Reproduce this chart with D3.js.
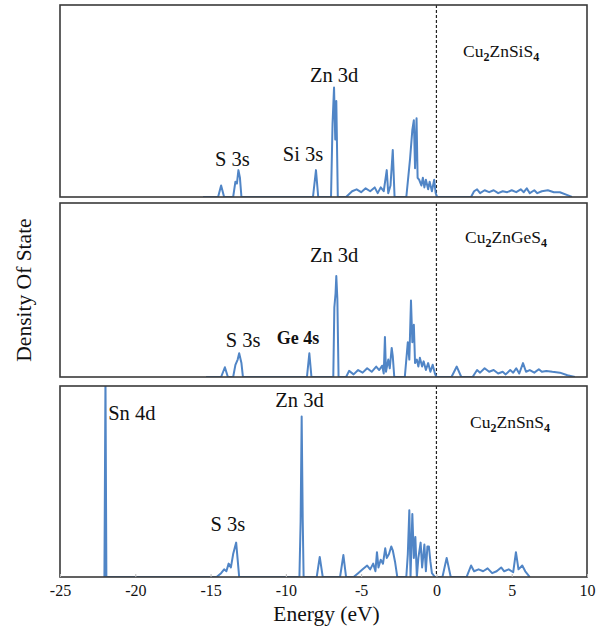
<!DOCTYPE html>
<html>
<head>
<meta charset="utf-8">
<script src="https://cdn.jsdelivr.net/npm/d3@7"></script>
<style>
  body { margin: 0; background: #fff; }
  svg text { font-family: "Liberation Serif", "Times New Roman", Times, serif; fill: #111; }
</style>
</head>
<body>
<script>
// energy range and x ticks
var xDomain = [-25, 10];
var xTicks = [-25, -20, -15, -10, -5, 0, 5, 10];

// DOS, [energy, % of panel height]
var dosSi = [[-15.5,0],[-14.5,0],[-14.3,6],[-14.1,0],[-13.5,0],[-13.35,8],[-13.25,7],[-13.15,14],[-13.05,10],[-12.95,0],
  [-8.2,0],[-8.0,14],[-7.85,0],[-7.0,0],[-6.9,38],[-6.8,57],[-6.72,30],[-6.65,50],[-6.55,0],
  [-6.0,0],[-5.6,3],[-5.3,4],[-5.0,2.5],[-4.7,4.5],[-4.4,3],[-4.1,5],[-3.9,2],[-3.7,5],[-3.5,3],[-3.3,14],[-3.2,2],[-3.05,6],[-2.9,24.5],[-2.78,0],
  [-2.0,0],[-1.75,20],[-1.6,35],[-1.5,40],[-1.42,15],[-1.32,41],[-1.25,10],[-1.15,9],[-1.0,6],[-0.9,10],[-0.8,5],[-0.7,9],[-0.55,4],[-0.45,8],[-0.3,3],[-0.15,9],[-0.05,2],[0.05,0],
  [2.3,0],[2.5,3],[2.7,4],[2.9,2],[3.2,3.5],[3.5,2.5],[3.8,3.5],[4.1,2],[4.4,3],[4.7,2.5],[5.0,3.5],[5.3,2.5],[5.6,4],[5.8,2.5],[6.0,4.5],[6.2,2],[6.5,3.5],[6.7,2],[7.0,3],[7.4,3.5],[7.8,2.5],[8.2,2.5],[8.7,1],[9.0,0]];

var dosGe = [[-15.3,0],[-14.3,0],[-14.05,5.6],[-13.85,0],[-13.5,0],[-13.35,7],[-13.2,10],[-13.1,13.6],[-12.95,8],[-12.85,0],
  [-8.6,0],[-8.44,13.6],[-8.3,0],[-6.85,0],[-6.78,40],[-6.7,48],[-6.65,58],[-6.58,45],[-6.5,0],
  [-6.0,0],[-5.8,3.5],[-5.5,1.5],[-5.2,4],[-4.9,2.5],[-4.6,5],[-4.3,3],[-4.0,6],[-3.8,4],[-3.6,6.5],[-3.5,2],[-3.42,23],[-3.35,3],[-3.2,10],[-3.1,5],[-2.97,16.7],[-2.9,12],[-2.8,0],
  [-2.1,0],[-1.9,20],[-1.8,10],[-1.69,44],[-1.6,20],[-1.5,30],[-1.42,8],[-1.3,10],[-1.2,6],[-1.1,11],[-0.95,6],[-0.85,9],[-0.7,4],[-0.55,8],[-0.4,3],[-0.25,7],[-0.1,2],[0.0,0],
  [1.0,0],[1.35,6],[1.65,0],[2.4,0],[2.7,4],[2.9,2.5],[3.2,5],[3.5,3],[3.8,4],[4.1,2],[4.4,3],[4.6,1.5],[4.9,4],[5.1,2.5],[5.3,5],[5.5,2],[5.75,8],[5.95,3],[6.2,4],[6.5,2.5],[6.8,4.5],[7.0,3],[7.3,3.5],[7.7,3],[8.2,2.5],[8.7,1],[9.2,0]];

var dosSn = [[-22.05,0],[-21.98,105],[-21.92,0],
  [-14.6,0],[-14.3,2],[-14.1,4],[-13.95,3],[-13.8,7],[-13.65,5],[-13.5,12],[-13.4,15],[-13.3,18],[-13.2,9],[-13.1,0],
  [-9.1,0],[-9.02,29],[-8.95,84],[-8.88,30],[-8.82,0],[-7.95,0],[-7.75,10.5],[-7.55,0],[-6.4,0],[-6.18,11.5],[-6.0,0],
  [-5.5,0],[-5.2,2],[-4.9,4],[-4.6,6],[-4.4,4],[-4.2,7],[-4.05,3],[-3.95,13],[-3.85,5],[-3.7,9],[-3.55,7],[-3.4,15],[-3.3,10],[-3.15,12],[-3.0,16],[-2.9,14],[-2.75,8],[-2.6,0],
  [-2.0,0],[-1.9,12],[-1.8,35],[-1.72,0],[-1.6,33],[-1.5,10],[-1.4,21],[-1.3,0],[-1.2,10],[-1.05,18],[-0.95,5],[-0.8,17],[-0.7,3],[-0.6,16],[-0.5,16],[-0.4,8],[-0.3,2],[-0.1,0],
  [0.4,0],[0.68,10],[0.95,0],[2.0,0],[2.3,6],[2.5,3],[2.8,4],[3.1,3],[3.4,4.5],[3.7,2],[4.0,3],[4.3,5],[4.5,3],[4.8,4],[5.1,2.5],[5.28,13],[5.45,4],[5.7,6],[5.9,3],[6.2,0]];

// compound names: [main, sub, main, sub]
var compounds = [["Cu", "2", "ZnSiS", "4"], ["Cu", "2", "ZnGeS", "4"], ["Cu", "2", "ZnSnS", "4"]];

// peak labels per panel: [text, energy, % height, bold]
var peaksSi = [["S 3s", -14.7, 16, false], ["Si 3s", -10.2, 19, false], ["Zn 3d", -8.4, 60, false]];
var peaksGe = [["S 3s", -14.0, 17, false], ["Ge 4s", -10.6, 19, true], ["Zn 3d", -8.4, 66, false]];
var peaksSn = [["Sn 4d", -21.8, 82, false], ["S 3s", -15.0, 24, false], ["Zn 3d", -10.7, 89, false]];

window.onload = function() {
  var w = 611, h = 639;
  var left = 60, right = 587;

  var svg = d3.select("body").append("svg")
              .attr("width", w)
              .attr("height", h);

  var x = d3.scaleLinear().domain(xDomain).range([left, right]);

  var panels = [
    {top: 5, bottom: 197, data: dosSi, name: compounds[0], peaks: peaksSi, nameX: 463, nameY: 57},
    {top: 203, bottom: 377, data: dosGe, name: compounds[1], peaks: peaksGe, nameX: 465, nameY: 243},
    {top: 386, bottom: 577, data: dosSn, name: compounds[2], peaks: peaksSn, nameX: 470, nameY: 428}
  ];

  panels.forEach(function(p, i) {
    var y = d3.scaleLinear().domain([0, 100]).range([p.bottom, p.top]);

    svg.append("clipPath")
       .attr("id", "clip" + i)
      .append("rect")
       .attr("x", left).attr("y", p.top)
       .attr("width", right - left).attr("height", p.bottom - p.top);

    // zero energy line
    svg.append("line")
       .attr("x1", x(0)).attr("x2", x(0))
       .attr("y1", p.top).attr("y2", p.bottom)
       .style("stroke", "#222")
       .style("stroke-width", 1.2)
       .style("stroke-dasharray", "3,2");

    var line = d3.line()
                 .x(function(d) { return x(d[0]); })
                 .y(function(d) { return y(d[1]); });

    svg.append("path")
       .datum(p.data)
       .attr("clip-path", "url(#clip" + i + ")")
       .attr("d", line)
       .style("fill", "none")
       .style("stroke", "#5085c6")
       .style("stroke-width", 2)
       .style("stroke-linejoin", "round");

    // frame
    svg.append("rect")
       .attr("x", left).attr("y", p.top)
       .attr("width", right - left).attr("height", p.bottom - p.top)
       .style("fill", "none")
       .style("stroke", "#3a3a3a")
       .style("stroke-width", 1.6);

    // peak labels
    p.peaks.forEach(function(k) {
      svg.append("text")
         .attr("x", x(k[1]))
         .attr("y", y(k[2]))
         .style("font-size", k[3] ? "18px" : "20.5px")
         .style("font-weight", k[3] ? "bold" : "normal")
         .text(k[0]);
    });

    // compound name
    var t = svg.append("text")
               .attr("x", p.nameX)
               .attr("y", p.nameY)
               .style("font-size", "17.5px");
    t.append("tspan").text(p.name[0]);
    t.append("tspan").attr("dy", 4).style("font-size", "12px").style("font-weight", "bold").text(p.name[1]);
    t.append("tspan").attr("dy", -4).text(p.name[2]);
    t.append("tspan").attr("dy", 4).style("font-size", "12px").style("font-weight", "bold").text(p.name[3]);
  });

  // x axis under the last panel
  var axis = svg.append("g")
                .attr("transform", "translate(0," + panels[2].bottom + ")")
                .call(d3.axisBottom(x)
                        .tickValues(xTicks)
                        .tickFormat(d3.format("d"))
                        .tickSizeInner(-3)
                        .tickSizeOuter(0)
                        .tickPadding(8));
  axis.attr("font-family", null);
  axis.select(".domain").remove();
  axis.selectAll("line").style("stroke", "#bbb");
  axis.selectAll("text")
      .style("font-size", "16px")
      .style("fill", "#111")
      .text(function(d) { return d < 0 ? "-" + Math.abs(d) : d; });

  svg.append("text")
     .attr("x", (left + right) / 2 + 3)
     .attr("y", 621)
     .style("text-anchor", "middle")
     .style("font-size", "21.5px")
     .text("Energy (eV)");

  svg.append("text")
     .attr("transform", "translate(31, 290) rotate(-90)")
     .style("text-anchor", "middle")
     .style("font-size", "21.5px")
     .text("Density Of State");
}
</script>
</body>
</html>
